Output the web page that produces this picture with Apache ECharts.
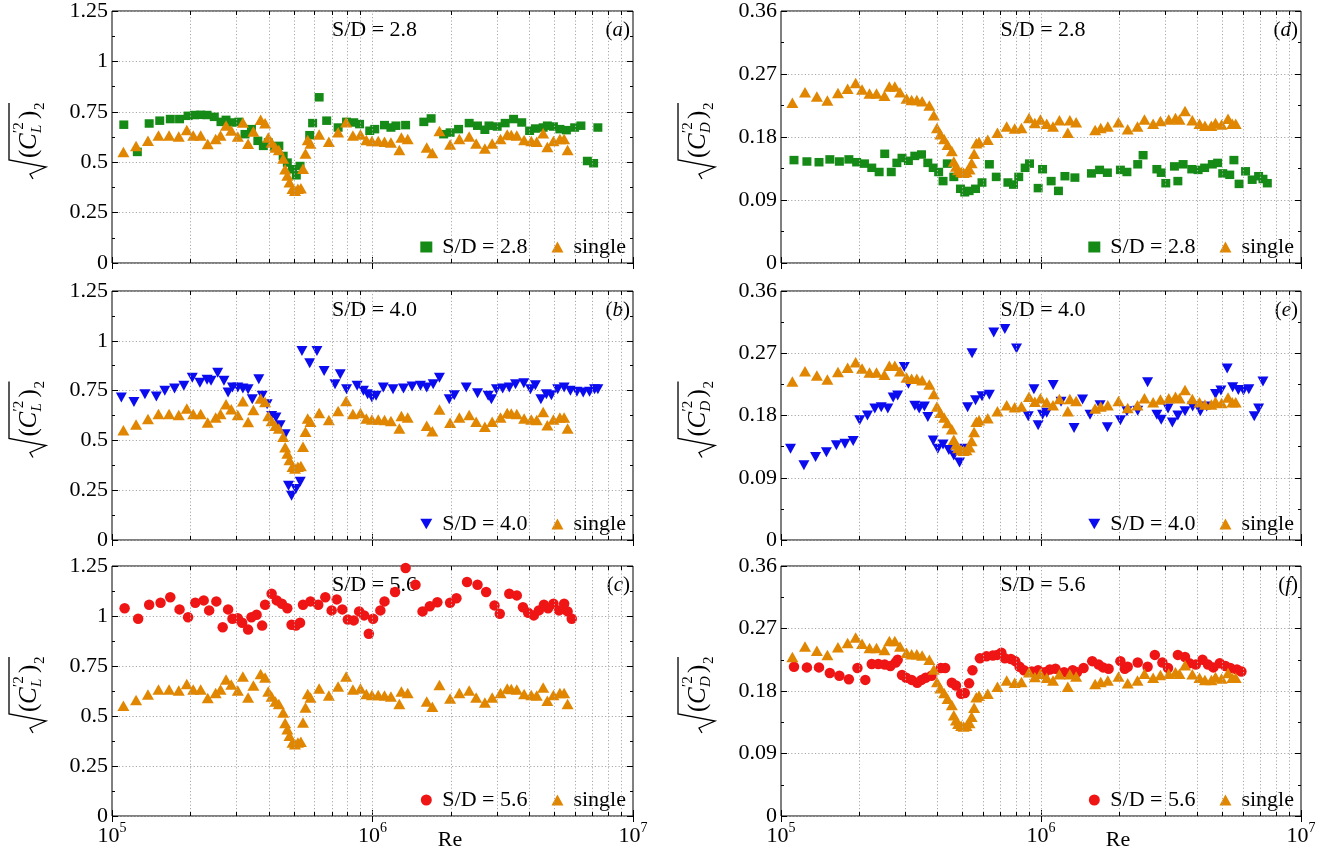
<!DOCTYPE html>
<html><head><meta charset="utf-8">
<script src="https://cdn.jsdelivr.net/npm/echarts@6/dist/echarts.min.js"></script>
<style>html,body{margin:0;padding:0;background:#fff}#c{width:1337px;height:856px}</style>
</head><body><div id="c"></div>
<script>
// ---------------- DATA ----------------
const reSingle = [1.106e5,1.237e5,1.374e5,1.508e5,1.656e5,1.804e5,1.937e5,2.05e5,2.19e5,2.33e5,2.50e5,2.61e5,2.74e5,2.87e5,3.04e5,3.18e5,3.33e5,3.49e5,3.72e5,3.87e5,3.98e5,4.10e5,4.24e5,4.37e5,4.54e5,4.62e5,4.71e5,4.80e5,4.93e5,5.04e5,5.17e5,5.31e5,5.41e5,5.53e5,5.64e5,5.78e5,6.24e5,6.80e5,7.38e5,7.92e5,8.41e5,8.99e5,9.47e5,9.95e5,1.052e6,1.112e6,1.177e6,1.268e6,1.291e6,1.365e6,1.615e6,1.697e6,1.807e6,1.986e6,2.155e6,2.35e6,2.50e6,2.70e6,2.88e6,3.10e6,3.29e6,3.41e6,3.58e6,3.82e6,4.07e6,4.27e6,4.52e6,4.69e6,4.95e6,5.24e6,5.44e6,5.61e6];
const clSingle = [0.551,0.580,0.607,0.632,0.632,0.628,0.660,0.632,0.632,0.590,0.615,0.632,0.682,0.657,0.627,0.697,0.592,0.652,0.710,0.693,0.623,0.598,0.573,0.560,0.518,0.465,0.434,0.401,0.368,0.359,0.368,0.371,0.468,0.543,0.610,0.593,0.638,0.602,0.648,0.698,0.632,0.638,0.610,0.605,0.605,0.602,0.598,0.560,0.622,0.615,0.573,0.546,0.655,0.588,0.615,0.627,0.593,0.568,0.593,0.615,0.638,0.635,0.632,0.610,0.605,0.602,0.643,0.576,0.605,0.615,0.615,0.560];
const cdSingle = [0.229,0.244,0.238,0.232,0.243,0.249,0.257,0.248,0.242,0.242,0.239,0.252,0.252,0.244,0.235,0.233,0.233,0.231,0.225,0.211,0.193,0.184,0.177,0.169,0.160,0.145,0.138,0.133,0.130,0.129,0.130,0.134,0.143,0.156,0.171,0.173,0.176,0.186,0.195,0.192,0.193,0.207,0.200,0.205,0.199,0.195,0.204,0.186,0.204,0.201,0.190,0.193,0.195,0.201,0.191,0.195,0.205,0.199,0.203,0.205,0.207,0.205,0.217,0.204,0.199,0.196,0.196,0.200,0.198,0.206,0.199,0.199];

const re28L = [1.11e5,1.251e5,1.389e5,1.525e5,1.674e5,1.817e5,1.959e5,2.072e5,2.19e5,2.317e5,2.47e5,2.62e5,2.74e5,2.90e5,3.07e5,3.24e5,3.43e5,3.63e5,3.81e5,3.98e5,4.21e5,4.37e5,4.54e5,4.71e5,4.93e5,5.10e5,5.27e5,5.74e5,5.89e5,6.24e5,6.67e5,7.38e5,7.95e5,8.47e5,8.92e5,9.76e5,1.02e6,1.112e6,1.177e6,1.23e6,1.34e6,1.574e6,1.679e6,1.876e6,1.986e6,2.14e6,2.35e6,2.53e6,2.70e6,2.80e6,3.01e6,3.23e6,3.48e6,3.74e6,4.01e6,4.22e6,4.52e6,4.69e6,4.95e6,5.24e6,5.55e6,5.97e6,6.31e6,6.68e6,7.06e6,7.33e6];
const cl28 = [0.686,0.551,0.692,0.706,0.714,0.714,0.730,0.734,0.735,0.734,0.725,0.700,0.710,0.697,0.700,0.639,0.664,0.606,0.581,0.598,0.578,0.581,0.531,0.498,0.465,0.435,0.481,0.634,0.694,0.822,0.706,0.672,0.700,0.697,0.689,0.656,0.664,0.684,0.672,0.681,0.684,0.700,0.717,0.639,0.647,0.664,0.694,0.681,0.661,0.681,0.677,0.694,0.714,0.697,0.656,0.667,0.672,0.681,0.677,0.664,0.659,0.672,0.681,0.506,0.495,0.672];
const re28D = [1.122e5,1.258e5,1.40e5,1.541e5,1.677e5,1.824e5,1.954e5,2.094e5,2.234e5,2.385e5,2.506e5,2.655e5,2.79e5,2.92e5,3.09e5,3.27e5,3.47e5,3.67e5,3.85e5,4.04e5,4.20e5,4.36e5,4.62e5,4.90e5,5.09e5,5.29e5,5.60e5,5.93e5,6.33e5,6.73e5,7.46e5,7.84e5,8.21e5,8.69e5,9.03e5,9.75e5,1.014e6,1.094e6,1.167e6,1.236e6,1.35e6,1.563e6,1.68e6,1.80e6,2.02e6,2.14e6,2.355e6,2.47e6,2.79e6,2.90e6,3.02e6,3.26e6,3.36e6,3.52e6,3.80e6,4.02e6,4.26e6,4.56e6,4.78e6,5.00e6,5.32e6,5.52e6,5.78e6,6.12e6,6.49e6,6.87e6,7.14e6,7.42e6];
const cd28 = [0.147,0.145,0.144,0.148,0.145,0.148,0.144,0.142,0.136,0.130,0.156,0.130,0.143,0.150,0.146,0.153,0.155,0.143,0.136,0.130,0.117,0.142,0.123,0.106,0.101,0.103,0.106,0.115,0.141,0.123,0.115,0.112,0.123,0.136,0.142,0.107,0.134,0.117,0.103,0.124,0.122,0.128,0.133,0.129,0.133,0.130,0.141,0.154,0.134,0.129,0.114,0.138,0.117,0.141,0.134,0.133,0.136,0.141,0.143,0.128,0.126,0.147,0.113,0.131,0.119,0.124,0.120,0.114];

const re40L = [1.086e5,1.214e5,1.338e5,1.48e5,1.595e5,1.738e5,1.887e5,2.033e5,2.175e5,2.317e5,2.40e5,2.545e5,2.69e5,2.79e5,2.90e5,3.04e5,3.18e5,3.33e5,3.455e5,3.66e5,3.77e5,3.94e5,4.10e5,4.26e5,4.42e5,4.62e5,4.76e5,4.89e5,5.08e5,5.28e5,5.36e5,5.74e5,6.12e5,6.52e5,7.18e5,7.52e5,7.95e5,8.73e5,9.23e5,9.58e5,9.95e5,1.032e6,1.10e6,1.199e6,1.315e6,1.419e6,1.528e6,1.615e6,1.71e6,1.807e6,1.97e6,2.06e6,2.29e6,2.53e6,2.78e6,2.86e6,2.99e6,3.16e6,3.35e6,3.54e6,3.81e6,4.04e6,4.22e6,4.43e6,4.65e6,4.86e6,5.14e6,5.44e6,5.75e6,6.09e6,6.44e6,6.81e6,7.12e6,7.33e6];
const cl40 = [0.715,0.693,0.732,0.720,0.749,0.760,0.774,0.815,0.790,0.804,0.799,0.840,0.799,0.740,0.765,0.765,0.760,0.757,0.707,0.807,0.724,0.682,0.623,0.615,0.576,0.531,0.272,0.222,0.256,0.292,0.949,0.887,0.949,0.849,0.782,0.832,0.757,0.774,0.749,0.732,0.715,0.724,0.765,0.757,0.760,0.770,0.774,0.765,0.782,0.815,0.707,0.727,0.765,0.737,0.724,0.707,0.757,0.760,0.765,0.782,0.787,0.757,0.777,0.707,0.732,0.727,0.757,0.765,0.749,0.744,0.740,0.744,0.757,0.757];
const re40D = [1.088e5,1.225e5,1.358e5,1.495e5,1.633e5,1.762e5,1.895e5,2.007e5,2.15e5,2.295e5,2.43e5,2.575e5,2.70e5,2.81e5,2.98e5,3.09e5,3.27e5,3.40e5,3.56e5,3.67e5,3.85e5,4.01e5,4.20e5,4.42e5,4.62e5,4.86e5,5.09e5,5.22e5,5.43e5,5.60e5,5.93e5,6.33e5,6.58e5,7.26e5,8.05e5,8.93e5,9.39e5,9.75e5,1.014e6,1.052e6,1.114e6,1.194e6,1.34e6,1.445e6,1.544e6,1.687e6,1.80e6,2.02e6,2.14e6,2.355e6,2.57e6,2.79e6,2.90e6,3.08e6,3.20e6,3.36e6,3.58e6,3.83e6,4.10e6,4.34e6,4.69e6,4.92e6,5.20e6,5.46e6,5.74e6,6.01e6,6.30e6,6.61e6,6.87e6,7.14e6];
const cd40 = [0.132,0.108,0.120,0.127,0.137,0.139,0.143,0.173,0.180,0.190,0.192,0.190,0.206,0.209,0.250,0.226,0.194,0.190,0.193,0.178,0.144,0.132,0.138,0.130,0.122,0.112,0.132,0.192,0.270,0.202,0.208,0.210,0.300,0.305,0.277,0.179,0.218,0.166,0.181,0.184,0.224,0.200,0.162,0.203,0.181,0.195,0.163,0.173,0.186,0.187,0.228,0.181,0.174,0.190,0.170,0.180,0.186,0.193,0.186,0.193,0.211,0.216,0.248,0.221,0.217,0.216,0.218,0.179,0.190,0.229];

const re56L = [1.118e5,1.26e5,1.389e5,1.536e5,1.674e5,1.817e5,1.959e5,2.087e5,2.249e5,2.36e5,2.515e5,2.66e5,2.79e5,2.90e5,3.04e5,3.16e5,3.33e5,3.43e5,3.59e5,3.77e5,3.87e5,4.10e5,4.29e5,4.49e5,4.71e5,4.89e5,5.08e5,5.27e5,5.41e5,5.78e5,6.19e5,6.59e5,6.97e5,7.29e5,7.66e5,8.04e5,8.47e5,8.89e5,9.29e5,9.68e5,1.005e6,1.072e6,1.112e6,1.221e6,1.34e6,1.462e6,1.556e6,1.66e6,1.774e6,1.986e6,2.10e6,2.306e6,2.53e6,2.73e6,2.94e6,3.08e6,3.35e6,3.58e6,3.78e6,3.96e6,4.16e6,4.35e6,4.55e6,4.72e6,4.95e6,5.20e6,5.44e6,5.61e6,5.82e6];
const cl56 = [1.039,0.986,1.056,1.066,1.094,1.033,0.994,1.066,1.078,1.028,1.073,0.944,1.033,0.986,0.989,0.966,0.932,0.994,1.006,0.952,1.056,1.111,1.078,1.061,1.039,0.956,0.952,0.966,1.056,1.073,1.056,1.094,1.028,1.083,1.033,0.982,0.978,1.023,1.003,0.911,0.986,1.028,1.073,1.120,1.240,1.156,1.023,1.049,1.069,1.066,1.089,1.170,1.156,1.120,1.053,1.011,1.111,1.103,1.044,1.016,1.003,1.028,1.056,1.039,1.061,1.028,1.061,1.023,0.986];
const re56D = [1.122e5,1.258e5,1.40e5,1.541e5,1.677e5,1.824e5,1.968e5,2.11e5,2.234e5,2.366e5,2.506e5,2.634e5,2.76e5,2.81e5,2.92e5,3.03e5,3.18e5,3.34e5,3.47e5,3.60e5,3.79e5,4.12e5,4.28e5,4.54e5,4.71e5,4.93e5,5.09e5,5.29e5,5.45e5,5.82e5,6.17e5,6.53e5,6.78e5,7.04e5,7.26e5,7.66e5,7.96e5,8.27e5,8.60e5,9.21e5,9.75e5,1.033e6,1.081e6,1.137e6,1.227e6,1.324e6,1.376e6,1.458e6,1.574e6,1.667e6,1.733e6,1.82e6,2.02e6,2.10e6,2.155e6,2.355e6,2.57e6,2.74e6,2.93e6,3.08e6,3.36e6,3.58e6,3.72e6,3.94e6,4.18e6,4.39e6,4.60e6,4.87e6,5.12e6,5.35e6,5.67e6,5.90e6];
const cd56 = [0.215,0.214,0.214,0.206,0.202,0.197,0.213,0.196,0.219,0.219,0.218,0.216,0.221,0.225,0.203,0.199,0.196,0.192,0.196,0.199,0.202,0.213,0.213,0.192,0.188,0.176,0.177,0.191,0.210,0.227,0.230,0.231,0.232,0.235,0.227,0.226,0.223,0.215,0.210,0.208,0.210,0.207,0.211,0.212,0.207,0.210,0.207,0.213,0.223,0.218,0.214,0.212,0.223,0.212,0.215,0.221,0.215,0.232,0.221,0.213,0.232,0.229,0.220,0.218,0.225,0.218,0.214,0.220,0.216,0.213,0.211,0.208];

const yTicksL = [0, 0.25, 0.5, 0.75, 1, 1.25];
const yTicksD = [0, 0.09, 0.18, 0.27, 0.36];
const xRange = [1e5, 1e7];
const xMinorRe = [2e5,3e5,4e5,5e5,6e5,7e5,8e5,9e5,2e6,3e6,4e6,5e6,6e6,7e6,8e6,9e6];
const xMajorInner = [1e6];

// ---------------- STYLE / LAYOUT ----------------
const FONT = '"Liberation Serif","DejaVu Serif",serif';
const GREEN = '#168a16', ORANGE = '#e08600', BLUE = '#0b0bef', RED = '#f01515';
const DOWN_TRI = 'path://M0,0L10,0L5,8.7Z';

const grids = [
  {left:112, top:11,  width:521, height:252},
  {left:781, top:11,  width:520, height:252},
  {left:112, top:291, width:521, height:249},
  {left:781, top:291, width:520, height:249},
  {left:112, top:566, width:521, height:250},
  {left:781, top:566, width:520, height:250}
];
const panels = [
  {tag:'a', kind:'L', name:'S/D = 2.8', re:re28L, v:cl28, color:GREEN, symbol:'rect', size:[9,8.5]},
  {tag:'d', kind:'D', name:'S/D = 2.8', re:re28D, v:cd28, color:GREEN, symbol:'rect', size:[9,8.5]},
  {tag:'b', kind:'L', name:'S/D = 4.0', re:re40L, v:cl40, color:BLUE, symbol:DOWN_TRI, size:[11,10]},
  {tag:'e', kind:'D', name:'S/D = 4.0', re:re40D, v:cd40, color:BLUE, symbol:DOWN_TRI, size:[11,10]},
  {tag:'c', kind:'L', name:'S/D = 5.6', re:re56L, v:cl56, color:RED, symbol:'circle', size:10.5},
  {tag:'f', kind:'D', name:'S/D = 5.6', re:re56D, v:cd56, color:RED, symbol:'circle', size:10.5}
];

const grid = [], xAxis = [], yAxis = [], series = [], legend = [], graphic = [];
const gridLineStyle = {color:'#a8a8a8', width:1, type:[1.2,2.2]};

panels.forEach((p, g) => {
  const G = grids[g];
  const ticks = p.kind === 'L' ? yTicksL : yTicksD;
  const ymax = ticks[ticks.length-1];
  const step = ticks[1]-ticks[0];
  const bottomRow = g >= 4;
  grid.push(Object.assign({show:true, borderColor:'#000', borderWidth:1, backgroundColor:'transparent', containLabel:false}, G));

  const xBase = {type:'log', logBase:10, gridIndex:g, min:xRange[0], max:xRange[1],
    axisLine:{show:false}, splitLine:{show:false},
    axisTick:{show:true, inside:true, length:6, lineStyle:{color:'#000'}}};
  xAxis.push(Object.assign({}, xBase, {position:'bottom',
    axisLabel:{show:bottomRow, margin:5, color:'#000',
      formatter: v => '{b|10}{s|' + Math.round(Math.log10(v)) + '}',
      rich:{b:{fontFamily:FONT, fontSize:22, color:'#000', lineHeight:26, verticalAlign:'bottom'},
            s:{fontFamily:FONT, fontSize:14, color:'#000', lineHeight:14, verticalAlign:'top'}}}}));
  xAxis.push(Object.assign({}, xBase, {position:'top', axisLabel:{show:false}}));

  const yBase = {type:'value', gridIndex:g, min:ticks[0], max:ymax, interval:step,
    axisLine:{show:false},
    axisTick:{show:true, inside:true, length:6, lineStyle:{color:'#000'}},
    minorTick:{show:true, splitNumber:2, length:3, lineStyle:{color:'#000'}}};
  yAxis.push(Object.assign({}, yBase, {position:'left',
    axisLabel:{show:true, margin:4, color:'#000', fontFamily:FONT, fontSize:22,
      formatter: v => String(+v.toFixed(2))},
    splitLine:{show:true, lineStyle:gridLineStyle}}));
  yAxis.push(Object.assign({}, yBase, {position:'right', axisLabel:{show:false}, splitLine:{show:false}}));

  const xi = 2*g, yi = 2*g;
  const tl = ymax * 4 / G.height;
  const mlData = [];
  xMinorRe.concat(xMajorInner).forEach(r => mlData.push({xAxis:r}));
  xMinorRe.forEach(r => {
    mlData.push([{coord:[r, 0], lineStyle:{color:'#000', type:'solid', width:1}}, {coord:[r, tl]}]);
    mlData.push([{coord:[r, ymax], lineStyle:{color:'#000', type:'solid', width:1}}, {coord:[r, ymax - tl]}]);
  });
  series.push({type:'line', xAxisIndex:xi, yAxisIndex:yi, data:[], silent:true, z:1,
    markLine:{silent:true, symbol:['none','none'], label:{show:false}, animation:false,
      lineStyle:gridLineStyle, data:mlData}});

  series.push({type:'scatter', name:p.name, xAxisIndex:xi, yAxisIndex:yi, z:3,
    data:p.re.map((r,i)=>[r, p.v[i]]), symbol:p.symbol, symbolSize:p.size,
    itemStyle:{color:p.color, opacity:1}});
  series.push({type:'scatter', name:'single', xAxisIndex:xi, yAxisIndex:yi, z:4,
    data:reSingle.map((r,i)=>[r, p.kind==='L' ? clSingle[i] : cdSingle[i]]),
    symbol:'triangle', symbolSize:[12,10.5], itemStyle:{color:ORANGE, opacity:1}});

  const right = 1337 - (G.left + G.width) + 2;
  legend.push({data:[p.name, 'single'],
    right:right, top:G.top + G.height - 32, orient:'horizontal', selectedMode:false,
    itemWidth:12, itemHeight:11, itemGap:24,
    textStyle:{fontFamily:FONT, fontSize:22, color:'#000', padding:[0,0,0,5]}});

  // panel title and tag
  graphic.push({type:'text', x:G.left + G.width*0.5 + 2, y:G.top + 19,
    style:{text:p.name, fontFamily:FONT, fontSize:22, fill:'#000', textAlign:'center', textVerticalAlign:'middle'}});
  graphic.push({type:'text', x:G.left + G.width - 3, y:G.top + 19,
    style:{text:'{n|(}{i|' + p.tag + '}{n|)}', textAlign:'right', textVerticalAlign:'middle',
      rich:{n:{fontFamily:FONT, fontSize:21, fill:'#000'}, i:{fontFamily:FONT, fontSize:21, fontStyle:'italic', fill:'#000'}}}});

  // y-axis title  sqrt( (C'^2_L) )_2
  const cx = G.left - 84, cy = G.top + G.height/2 - 10;
  const t = (text, x, y, size, italic) => ({type:'text', x:x, y:y,
    style:{text:text, fontFamily:FONT, fontSize:size, fontStyle:italic?'italic':'normal', fill:'#000',
      textAlign:'left', textVerticalAlign:'middle'}});
  graphic.push({type:'group', x:cx, y:cy, rotation:Math.PI/2, children:[
    {type:'polyline', shape:{points:[[-52,5],[-47,2],[-40,18],[-33,-19],[24,-19]]},
      style:{stroke:'#000', lineWidth:1.3, fill:null}},
    t('(', -31, 1, 25, false),
    t('C', -23, 1, 25, true),
    t('\u20322', -6, -9, 15, false),
    t(p.kind, -6, 9, 15, true),
    t(')', 8, 1, 25, false),
    t('2', 17, 12, 15, false)
  ]});
});

// Re labels
graphic.push({type:'text', x:450, y:840, style:{text:'Re', fontFamily:FONT, fontSize:22, fill:'#000', textAlign:'center', textVerticalAlign:'middle'}});
graphic.push({type:'text', x:1118, y:840, style:{text:'Re', fontFamily:FONT, fontSize:22, fill:'#000', textAlign:'center', textVerticalAlign:'middle'}});

const chart = echarts.init(document.getElementById('c'), null, {renderer:'canvas'});
chart.setOption({animation:false, backgroundColor:'#fff', grid, xAxis, yAxis, series, legend, graphic});
</script>
</body></html>
